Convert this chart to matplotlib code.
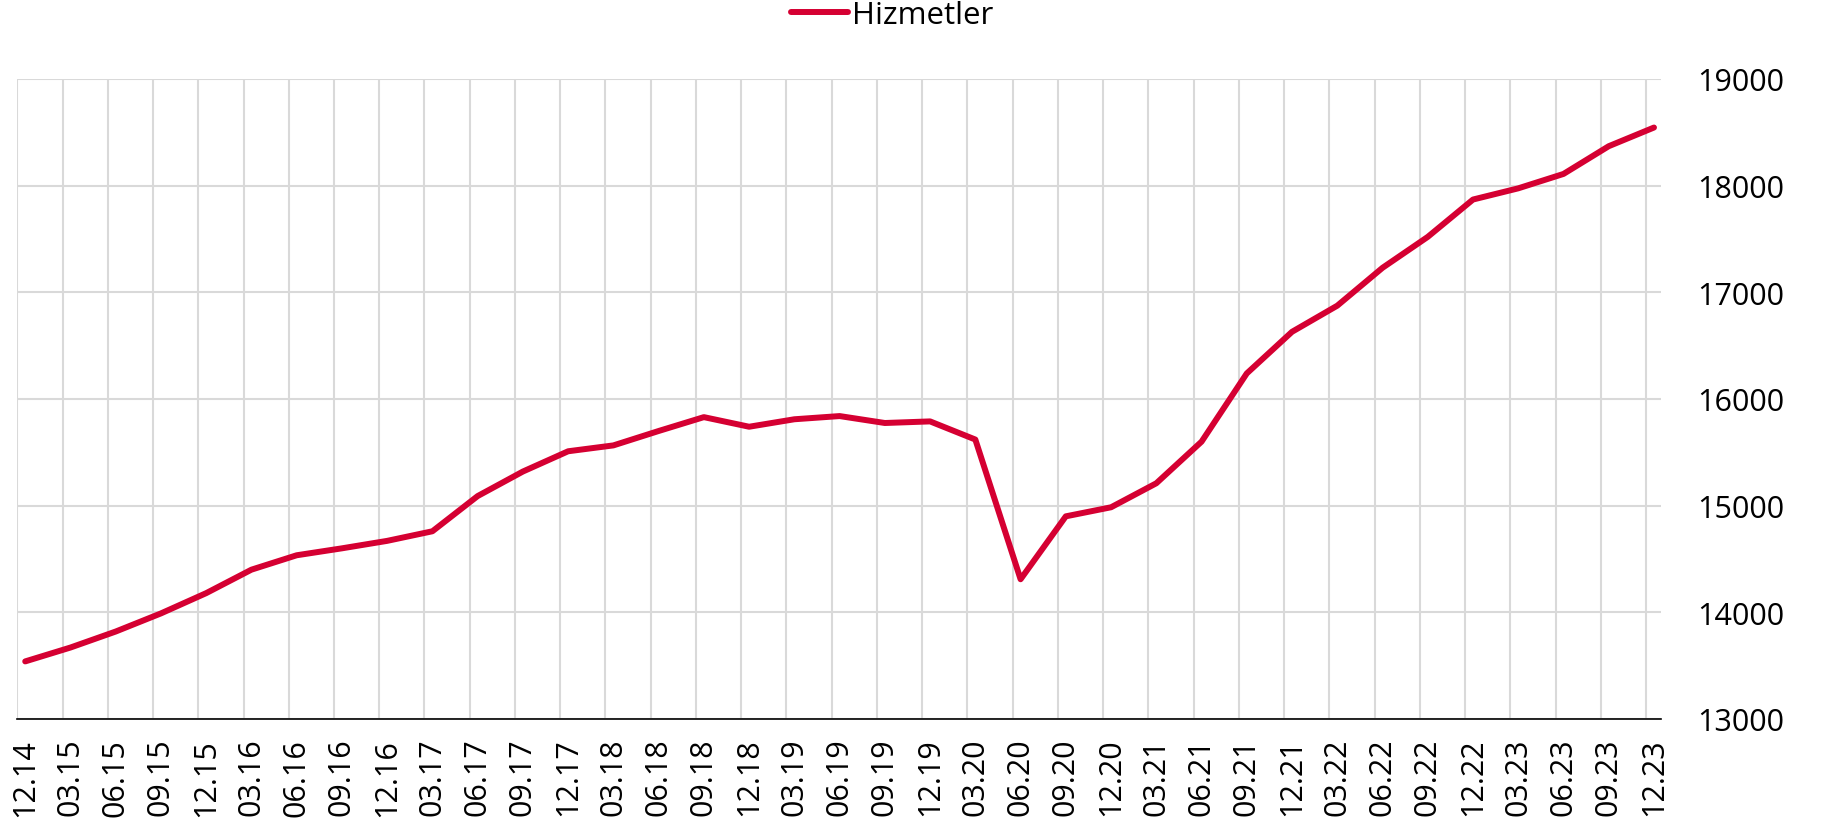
import matplotlib
matplotlib.use("Agg")
import matplotlib.pyplot as plt
import numpy as np

plt.rcParams['font.family'] = ['Open Sans', 'DejaVu Sans']

# quarterly labels 12.14 ... 12.23
quarters = ['12.14',
            '03.15', '06.15', '09.15', '12.15',
            '03.16', '06.16', '09.16', '12.16',
            '03.17', '06.17', '09.17', '12.17',
            '03.18', '06.18', '09.18', '12.18',
            '03.19', '06.19', '09.19', '12.19',
            '03.20', '06.20', '09.20', '12.20',
            '03.21', '06.21', '09.21', '12.21',
            '03.22', '06.22', '09.22', '12.22',
            '03.23', '06.23', '09.23', '12.23']

hizmetler = [13540,
             13670, 13820, 13990, 14180,
             14400, 14535, 14600, 14670,
             14760, 15090, 15320, 15510,
             15565, 15700, 15830, 15740,
             15810, 15840, 15775, 15790,
             15620, 14310, 14900, 14985,
             15210, 15600, 16240, 16630,
             16875, 17230, 17520, 17870,
             17975, 18110, 18370, 18545]

yticks = [13000, 14000, 15000, 16000, 17000, 18000, 19000]

red = '#d50032'
grid_col = '#d9d9d9'

fig = plt.figure(figsize=(18.39, 8.29), dpi=100)
ax = fig.add_axes([17.3 / 1839, 109 / 829, (1661 - 17.3) / 1839, 640 / 829])

x = np.arange(len(quarters))
line, = ax.plot(x, hizmetler, color=red, lw=4.3, solid_capstyle='round',
                solid_joinstyle='round', label='Hizmetler', zorder=3)

off = 0.175
ax.set_xlim(-off, len(quarters) - 1 + 0.155)
ax.set_ylim(13000, 19000)

ax.set_xticks(x)
ax.set_xticklabels(quarters, rotation=90, fontsize=22)
ax.set_xticks(x - off, minor=True)
ax.set_yticks(yticks)
ax.set_yticklabels([str(v) for v in yticks], fontsize=22)

ax.yaxis.tick_right()
ax.tick_params(axis='x', which='both', length=0, pad=13.5)
ax.tick_params(axis='y', length=0, pad=26)

ax.grid(axis='x', which='minor', color=grid_col, lw=1.5)
ax.grid(axis='x', which='major', visible=False)
ax.grid(axis='y', color=grid_col, lw=1.5)
ax.set_axisbelow(True)

for s in ['top', 'right', 'left']:
    ax.spines[s].set_visible(False)
ax.spines['bottom'].set_color('black')
ax.spines['bottom'].set_linewidth(1.2)
ax.spines['bottom'].set_zorder(4)

fig.legend(handles=[line], loc='center', bbox_to_anchor=(892.5 / 1839, 1 - 15.5 / 829),
           frameon=False, fontsize=22.5, handlelength=1.8, handletextpad=0.15,
           borderpad=0, borderaxespad=0)

fig.savefig('out.png', dpi=100)
